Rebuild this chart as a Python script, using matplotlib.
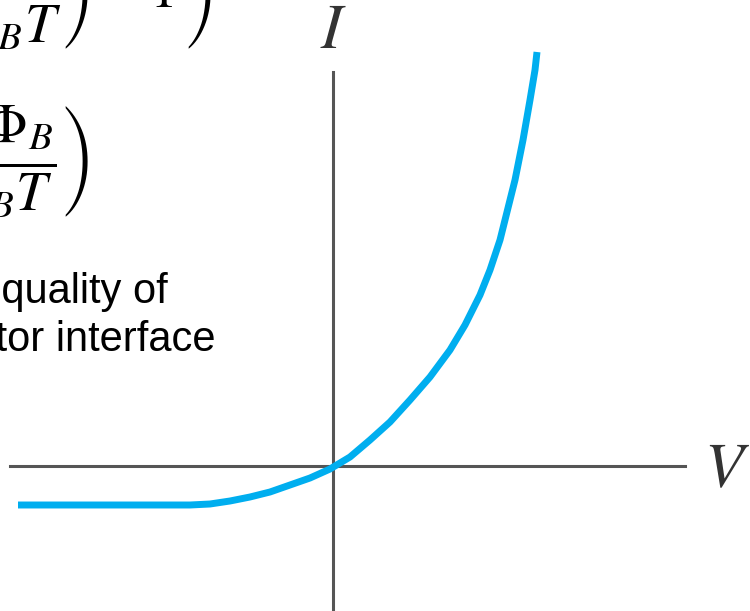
import matplotlib
matplotlib.use("Agg")
import matplotlib.pyplot as plt

plt.rcParams["mathtext.fontset"] = "stix"

# Schottky diode I-V characteristic (arbitrary units)
voltage = [-3.15, -1.43, -1.23, -1.03, -0.83, -0.63, -0.43, -0.23, -0.03,
           0.17, 0.37, 0.57, 0.77, 0.97, 1.17, 1.32, 1.47, 1.57, 1.67,
           1.72, 1.82, 1.90, 1.97, 2.02, 2.04]
current = [-0.39, -0.39, -0.38, -0.35, -0.31, -0.26, -0.19, -0.12, -0.03,
           0.09, 0.26, 0.44, 0.66, 0.89, 1.16, 1.41, 1.71, 1.96, 2.26,
           2.46, 2.86, 3.26, 3.66, 3.96, 4.14]

eq_diode = r"$I = I_s\left(\exp\left(\dfrac{qV}{nk_BT}\right) - 1\,\right)$"
eq_sat = r"$I_s = AA^{*}T^{2}\exp\left(-\dfrac{q\Phi_B}{k_BT}\right)$"
note_lines = ["n: ideality factor, reflects the quality of",
              "the metal-semiconductor interface"]

fig = plt.figure(figsize=(7.5, 6.11), dpi=100)
ax = fig.add_axes([0, 0, 1, 1])
ax.set_xlim(-3.33, 4.17)
ax.set_ylim(-1.45, 4.66)

axis_color = "#555555"
for side in ("top", "right"):
    ax.spines[side].set_visible(False)
ax.spines["left"].set_position(("data", 0))
ax.spines["bottom"].set_position(("data", 0))
ax.spines["left"].set_bounds(-1.45, 3.94)
ax.spines["bottom"].set_bounds(-3.23, 3.52)
for side in ("left", "bottom"):
    ax.spines[side].set_color(axis_color)
    ax.spines[side].set_linewidth(2.2)
ax.set_xticks([])
ax.set_yticks([])
ax.patch.set_alpha(0)

ax.plot(voltage, current, color="#00AEEF", lw=5, solid_capstyle="butt",
        solid_joinstyle="round", zorder=3)

ax.text(0.005, 4.36, r"$I$", fontsize=46, ha="center", va="center",
        color="#333333")
ax.text(3.94, -0.03, r"$V$", fontsize=46, ha="center", va="center",
        color="#333333")

ax.text(0.283, 1.010, eq_diode, transform=ax.transAxes, fontsize=40,
        ha="right", va="center", color="black")
ax.text(0.118, 0.735, eq_sat, transform=ax.transAxes, fontsize=40,
        ha="right", va="center", color="black")

ax.text(0.223, 1 - 303 / 611, note_lines[0], transform=ax.transAxes,
        fontsize=30, family="Liberation Sans", ha="right", va="baseline")
ax.text(0.287, 1 - 351 / 611, note_lines[1], transform=ax.transAxes,
        fontsize=30, family="Liberation Sans", ha="right", va="baseline")

fig.savefig("out.png", dpi=100)
